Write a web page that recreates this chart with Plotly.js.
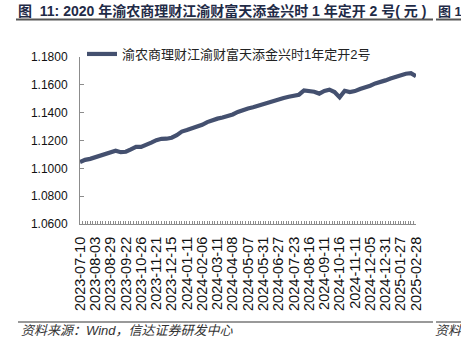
<!DOCTYPE html>
<html>
<head>
<meta charset="utf-8">
<script src="https://cdn.plot.ly/plotly-3.0.1.min.js"></script>
<style>
html,body{margin:0;padding:0;background:#fff;overflow:hidden;}
#chart{width:461px;height:353px;}
</style>
</head>
<body>
<div id="chart"></div>
<script>
// ---- data ----
const seriesName = '渝农商理财江渝财富天添金兴时1年定开2号';
const startDate = '2023-07-10';
const endDate = '2025-02-28';
// exchange holidays (weekdays closed) in the period
const holidays = ['2023-09-29','2023-10-02','2023-10-03','2023-10-04','2023-10-05','2023-10-06',
  '2024-01-01','2024-02-09','2024-02-12','2024-02-13','2024-02-14','2024-02-15','2024-02-16',
  '2024-04-04','2024-04-05','2024-05-01','2024-05-02','2024-05-03','2024-06-10',
  '2024-09-16','2024-09-17','2024-10-01','2024-10-02','2024-10-03','2024-10-04','2024-10-07',
  '2025-01-01','2025-01-28','2025-01-29','2025-01-30','2025-01-31','2025-02-03','2025-02-04'];
// NAV read every 6th trading day
const sampleStep = 6;
const navValues = [
  1.1045,1.1061,1.1068,1.1081,1.1090,1.1108,1.1121,1.1127,1.1116,1.1119,
  1.1136,1.1154,1.1154,1.1166,1.1185,1.1202,1.1212,1.1213,1.1220,1.1238,
  1.1264,1.1275,1.1287,1.1301,1.1313,1.1332,1.1348,1.1357,1.1365,1.1374,
  1.1387,1.1405,1.1420,1.1430,1.1439,1.1451,1.1464,1.1474,1.1484,1.1495,
  1.1506,1.1514,1.1522,1.1529,1.1560,1.1556,1.1550,1.1537,1.1556,1.1565,
  1.1548,1.1510,1.1557,1.1548,1.1555,1.1570,1.1580,1.1594,1.1610,1.1619,
  1.1632,1.1645,1.1659,1.1668,1.1680,1.1684,1.1661
];
const labelEvery = 18;
const tickEvery = 3;

// ---- build trading calendar ----
function tradingDays(s, e, hol) {
  const out = [];
  const hs = new Set(hol);
  let d = new Date(s + 'T00:00:00Z');
  const end = new Date(e + 'T00:00:00Z');
  while (d <= end) {
    const wd = d.getUTCDay();
    const iso = d.toISOString().slice(0, 10);
    if (wd !== 0 && wd !== 6 && !hs.has(iso)) out.push(iso);
    d = new Date(d.getTime() + 86400000);
  }
  return out;
}
const days = tradingDays(startDate, endDate, holidays);
const xs = navValues.map((v, i) => days[i * sampleStep]);

const tickvals = [], ticktext = [];
days.forEach((d, i) => {
  if (i % tickEvery === 0) { tickvals.push(d); ticktext.push(i % labelEvery === 0 ? d : ''); }
});

// pixel helpers for decorations
const L = 80, R = 45, T = 57, B = 129, W = 461, H = 353;
const pw = W - L - R, ph = H - T - B;
const px = x => (x - L) / pw;
const py = y => (H - B - y) / ph;

const lineCol = '#44506f';
const axCol = '#8c8c8c';
const latin = 'Liberation Sans, Arial, Noto Sans CJK SC, sans-serif';
const cjk = 'Liberation Sans, Noto Sans CJK SC, sans-serif';

const trace = {
  x: xs, y: navValues, type: 'scatter', mode: 'lines', name: seriesName,
  line: {color: lineCol, width: 4.2}
};

const layout = {
  width: W, height: H,
  margin: {l: L, r: R, t: T, b: B, pad: 0},
  paper_bgcolor: '#fff', plot_bgcolor: '#fff',
  showlegend: true,
  legend: {x: px(82), xanchor: 'left', y: py(54), yanchor: 'middle', orientation: 'h',
    font: {family: cjk, size: 13, color: '#222'}, bgcolor: 'rgba(0,0,0,0)', itemwidth: 30},
  xaxis: {
    type: 'category', categoryorder: 'array', categoryarray: days,
    range: [0, days.length - 1],
    tickmode: 'array', tickvals: tickvals, ticktext: ticktext,
    tickangle: -90, ticks: 'inside', ticklen: 3, tickcolor: axCol,
    showline: true, linecolor: axCol, linewidth: 1,
    showgrid: false, zeroline: false,
    tickfont: {family: latin, size: 14.5, color: '#111'},
    ticklabelstandoff: 6
  },
  yaxis: {
    range: [1.06, 1.18], dtick: 0.02, tick0: 1.06, tickformat: '.4f',
    ticks: 'inside', ticklen: 4, tickcolor: axCol,
    showline: true, linecolor: axCol, linewidth: 1,
    showgrid: false, zeroline: false,
    tickfont: {family: latin, size: 12, color: '#111'},
    ticklabelstandoff: 9
  },
  shapes: [
    {type: 'line', xref: 'paper', yref: 'paper', x0: px(16), x1: px(433), y0: py(19.5), y1: py(19.5), line: {color: '#555', width: 2}},
    {type: 'line', xref: 'paper', yref: 'paper', x0: px(436), x1: px(462), y0: py(19.5), y1: py(19.5), line: {color: '#555', width: 2}},
    {type: 'line', xref: 'paper', yref: 'paper', x0: px(18), x1: px(433), y0: py(322), y1: py(322), line: {color: '#777', width: 1.5}},
    {type: 'line', xref: 'paper', yref: 'paper', x0: px(436), x1: px(462), y0: py(322), y1: py(322), line: {color: '#777', width: 1.5}}
  ],
  annotations: [
    {text: '<b>图  11: 2020 年渝农商理财江渝财富天添金兴时 1 年定开 2 号( 元 )</b>', xref: 'paper', yref: 'paper',
      x: px(16), y: py(11), xanchor: 'left', yanchor: 'middle', showarrow: false,
      font: {family: cjk, size: 14, color: '#1f2b47'}},
    {text: '<b>图 1</b>', xref: 'paper', yref: 'paper',
      x: px(436), y: py(11), xanchor: 'left', yanchor: 'middle', showarrow: false,
      font: {family: cjk, size: 13, color: '#1f2b47'}},
    {text: '资料来源：Wind，信达证券研发中心', xref: 'paper', yref: 'paper',
      x: px(19), y: py(330), xanchor: 'left', yanchor: 'middle', showarrow: false,
      font: {family: cjk, size: 13, color: '#333', style: 'italic'}},
    {text: '资料', xref: 'paper', yref: 'paper',
      x: px(433), y: py(330), xanchor: 'left', yanchor: 'middle', showarrow: false,
      font: {family: cjk, size: 13, color: '#333', style: 'italic'}}
  ]
};

Plotly.newPlot('chart', [trace], layout, {displayModeBar: false, staticPlot: true});
</script>
</body>
</html>
